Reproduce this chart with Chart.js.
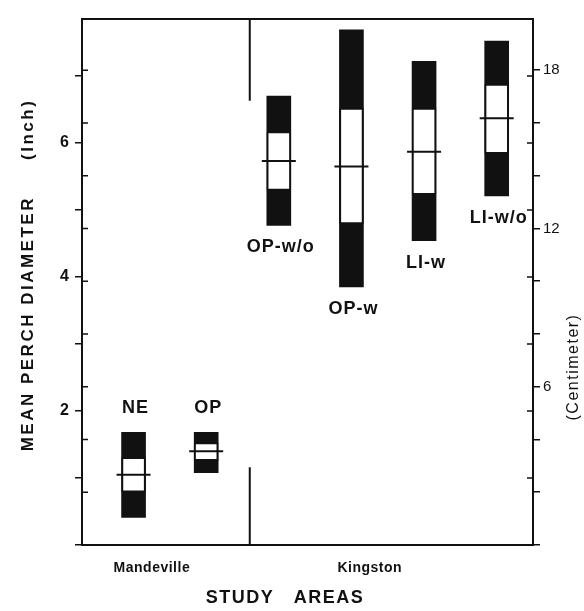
<!DOCTYPE html>
<html>
<head>
<meta charset="utf-8">
<script src="https://cdn.jsdelivr.net/npm/chart.js@4/dist/chart.umd.min.js"></script>
<style>
  body { margin: 0; background: #fff; }
  #wrap { width: 584px; height: 611px; }
</style>
</head>
<body>
<div id="wrap"><canvas id="chart"></canvas></div>
<script>
// perch sites, grouped by study area
const categories = ['NE', 'OP', 'OP-w/o', 'OP-w', 'LI-w', 'LI-w/o'];
const areas = ['Mandeville', 'Mandeville', 'Kingston', 'Kingston', 'Kingston', 'Kingston'];

// mean perch diameter, inches (black = outer range, white = inner range)
const rangeLow  = [0.41, 1.08, 4.77, 3.85, 4.54, 5.21];
const rangeHigh = [1.68, 1.68, 6.70, 7.69, 7.22, 7.52];
const innerLow  = [0.79, 1.26, 5.29, 4.79, 5.23, 5.84];
const innerHigh = [1.31, 1.53, 6.17, 6.52, 6.52, 6.88];
const means     = [1.05, 1.40, 5.73, 5.65, 5.87, 6.37];

// axes
const inchMax = 7.85;
const inchLabels = [2, 4, 6];
const cmLabels = [6, 12, 18];
const CM_PER_INCH = 2.54;

// divider between study areas (inch values where the line stops)
const dividerTopEnd = 6.63;
const dividerBottomEnd = 1.16;

const INK = '#111';
const FONT = '"Liberation Sans", Arial, sans-serif';

// extra drawing: frame, inner ticks, divider, labels, titles
const extras = {
  id: 'extras',
  afterDatasetsDraw(chart) {
    const ctx = chart.ctx;
    const x = chart.scales.x, y = chart.scales.y;
    ctx.save();
    ctx.fillStyle = INK;
    ctx.font = 'bold 18px ' + FONT;
    ctx.letterSpacing = '1px';
    ctx.textAlign = 'center';
    ctx.textBaseline = 'middle';
    categories.forEach((c, i) => {
      const px = x.getPixelForValue(i) + 2;
      if (areas[i] === 'Mandeville') {
        ctx.fillText(c, px, y.getPixelForValue(rangeHigh[i]) - 24);
      } else {
        ctx.fillText(c, px, y.getPixelForValue(rangeLow[i]) + 22);
      }
    });
    ctx.restore();
  },
  afterDraw(chart) {
    const ctx = chart.ctx;
    const a = chart.chartArea;
    const x = chart.scales.x, y = chart.scales.y, y2 = chart.scales.y2;
    ctx.save();
    ctx.strokeStyle = INK;
    ctx.fillStyle = INK;

    // top edge of frame
    ctx.lineWidth = 2;
    ctx.beginPath();
    ctx.moveTo(a.left - 1, a.top);
    ctx.lineTo(a.right + 1, a.top);
    ctx.stroke();

    // inward ticks: cm on the left axis, inches on the right axis
    ctx.lineWidth = 1.5;
    ctx.beginPath();
    for (let cm = 2; cm < inchMax * CM_PER_INCH; cm += 2) {
      const py = y2.getPixelForValue(cm);
      ctx.moveTo(a.left, py);
      ctx.lineTo(a.left + 6, py);
    }
    for (let inch = 1; inch < inchMax; inch++) {
      const py = y.getPixelForValue(inch);
      ctx.moveTo(a.right, py);
      ctx.lineTo(a.right - 6, py);
    }
    ctx.stroke();

    // divider between Mandeville and Kingston
    const split = areas.lastIndexOf('Mandeville');
    const dx = x.getPixelForValue(split + 0.6);
    ctx.lineWidth = 2;
    ctx.beginPath();
    ctx.moveTo(dx, a.top);
    ctx.lineTo(dx, y.getPixelForValue(dividerTopEnd));
    ctx.moveTo(dx, a.bottom);
    ctx.lineTo(dx, y.getPixelForValue(dividerBottomEnd));
    ctx.stroke();

    // study area names under the axis
    ctx.textAlign = 'center';
    ctx.textBaseline = 'middle';
    ctx.font = 'bold 14px ' + FONT;
    ctx.letterSpacing = '0.5px';
    [...new Set(areas)].forEach(name => {
      const idx = areas.map((v, i) => v === name ? i : -1).filter(i => i >= 0);
      const cx = x.getPixelForValue((idx[0] + idx[idx.length - 1]) / 2);
      ctx.fillText(name, cx - 18, a.bottom + 23);
    });

    // x title
    ctx.font = 'bold 18px ' + FONT;
    ctx.letterSpacing = '1.5px';
    ctx.fillText('STUDY   AREAS', 285, a.bottom + 53);

    // left title
    ctx.save();
    ctx.translate(28, 275);
    ctx.rotate(-Math.PI / 2);
    ctx.font = 'bold 17px ' + FONT;
    ctx.letterSpacing = '2.5px';
    ctx.fillText('MEAN PERCH DIAMETER     (Inch)', 0, 0);
    ctx.restore();

    // right title
    ctx.save();
    ctx.translate(574, 367);
    ctx.rotate(-Math.PI / 2);
    ctx.font = '16px ' + FONT;
    ctx.letterSpacing = '1.5px';
    ctx.fillText('(Centimeter)', 0, 0);
    ctx.restore();

    ctx.restore();
  }
};

const xy = vals => vals.map((v, i) => ({ x: i, y: v }));

new Chart(document.getElementById('chart').getContext('2d'), {
  data: {
    datasets: [
      {
        type: 'line',
        label: 'Mean',
        data: xy(means),
        showLine: false,
        pointStyle: 'line',
        pointRadius: 17,
        pointBorderWidth: 2,
        borderColor: INK,
        order: 0
      },
      {
        type: 'bar',
        label: 'Inner',
        data: xy(categories.map((c, i) => [innerLow[i], innerHigh[i]])),
        backgroundColor: '#fff',
        borderColor: INK,
        borderWidth: 2,
        borderSkipped: false,
        barThickness: 24,
        grouped: false,
        order: 1
      },
      {
        type: 'bar',
        label: 'Range',
        data: xy(categories.map((c, i) => [rangeLow[i], rangeHigh[i]])),
        backgroundColor: INK,
        barThickness: 24,
        grouped: false,
        order: 2
      }
    ]
  },
  options: {
    responsive: true,
    maintainAspectRatio: false,
    animation: false,
    events: [],
    layout: { padding: { top: 10 } },
    plugins: { legend: { display: false }, tooltip: { enabled: false } },
    scales: {
      x: {
        type: 'linear',
        min: -0.71,
        max: 5.5,
        offset: false,
        grid: { display: false },
        ticks: { display: false },
        border: { color: INK, width: 2 },
        afterFit: s => { s.height = 66; }
      },
      y: {
        position: 'left',
        min: 0,
        max: inchMax,
        grid: { drawOnChartArea: false, color: INK, lineWidth: 1.5, tickLength: 7 },
        border: { color: INK, width: 2 },
        ticks: {
          stepSize: 1,
          includeBounds: false,
          padding: 6,
          color: INK,
          font: { family: FONT, size: 16, weight: 'bold' },
          callback: v => inchLabels.includes(v) ? String(v) : ''
        },
        afterFit: s => { s.width = 82; }
      },
      y2: {
        position: 'right',
        min: 0,
        max: inchMax * CM_PER_INCH,
        grid: { drawOnChartArea: false, color: INK, lineWidth: 1.5, tickLength: 7 },
        border: { color: INK, width: 2 },
        ticks: {
          stepSize: 2,
          includeBounds: false,
          padding: 3,
          color: INK,
          font: { family: FONT, size: 15 },
          callback: v => cmLabels.includes(v) ? String(v) : ''
        },
        afterFit: s => { s.width = 51; }
      }
    }
  },
  plugins: [extras]
});
</script>
</body>
</html>
